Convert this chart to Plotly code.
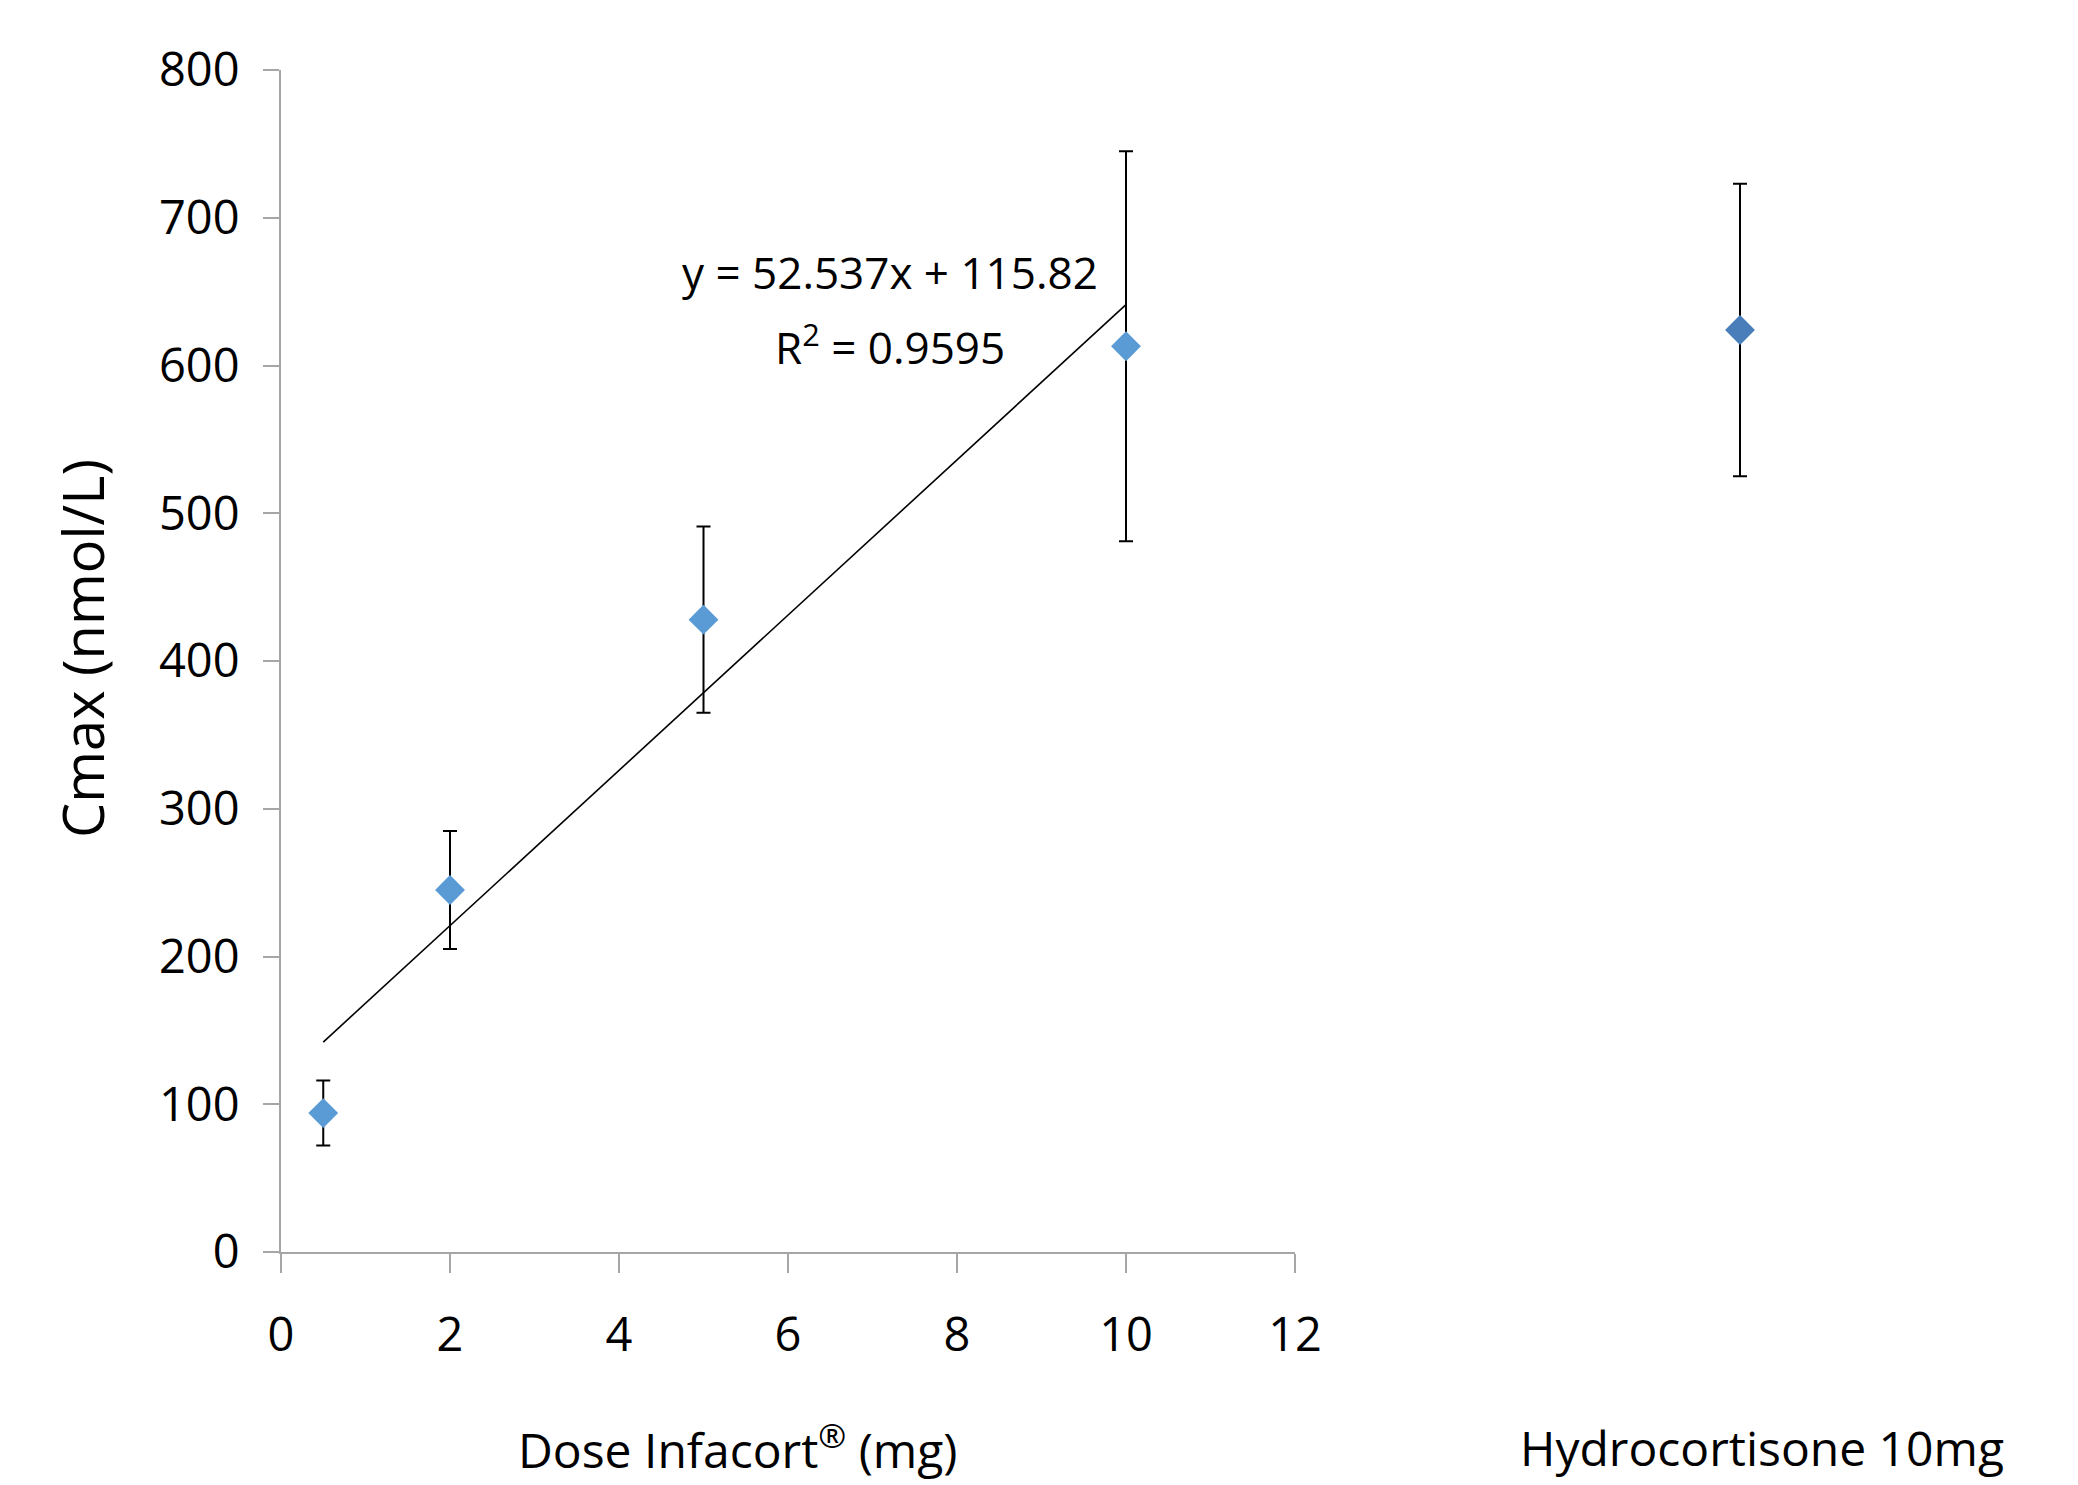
import plotly.graph_objects as go
import numpy as np

# ---- data ----
dose_mg = [0.5, 2, 5, 10]
cmax_infacort = [94, 245, 428, 613]
err_infacort = [22, 40, 63, 132]

hc_label = ["Hydrocortisone 10mg"]
cmax_hc = [624]
err_hc = [99]

fit_slope = 52.537
fit_intercept = 115.82
fit_r2 = 0.9595

y_ticks = [0, 100, 200, 300, 400, 500, 600, 700, 800]
x_ticks = [0, 2, 4, 6, 8, 10, 12]

# ---- figure ----
FONT = "Open Sans, sans-serif"
W, H = 2078, 1485
OFF = 8  # page body margin
L, T = 281 - OFF, 70 - OFF
B = H - (1252 - OFF)
R = W - (1900 - OFF)
pw = W - L - R
ph = H - T - B


def px(x):
    return (x - OFF - L) / pw


def py(y):
    return (H - B - (y - OFF)) / ph


fig = go.Figure()

fig.add_trace(go.Scatter(
    x=dose_mg, y=cmax_infacort, mode="markers",
    marker=dict(symbol="diamond", size=23, color="#5b9bd5"),
    error_y=dict(type="data", array=err_infacort, color="black", thickness=2, width=7),
    showlegend=False, xaxis="x", yaxis="y"))

fx = np.array([min(dose_mg), max(dose_mg)])
fig.add_trace(go.Scatter(
    x=fx, y=fit_slope * fx + fit_intercept, mode="lines",
    line=dict(color="black", width=1.6), showlegend=False, xaxis="x", yaxis="y"))

fig.add_trace(go.Scatter(
    x=hc_label, y=cmax_hc, mode="markers",
    marker=dict(symbol="diamond", size=23, color="#4a7ebb"),
    error_y=dict(type="data", array=err_hc, color="black", thickness=2, width=7),
    showlegend=False, xaxis="x2", yaxis="y"))

fig.update_layout(
    width=W, height=H,
    margin=dict(l=L, r=R, t=T, b=B, autoexpand=False),
    plot_bgcolor="white", paper_bgcolor="white",
    font=dict(family=FONT, size=47, color="black"),
    xaxis=dict(domain=[0, px(1295)], range=[0, 12], tickvals=x_ticks,
               showgrid=False, zeroline=False, showline=True, linecolor="#a6a6a6", linewidth=2,
               ticks="outside", ticklen=19, tickwidth=2, tickcolor="#a6a6a6",
               ticklabelstandoff=22,
               tickfont=dict(family=FONT, size=47, color="black")),
    xaxis2=dict(domain=[px(1740) - 0.05, px(1740) + 0.05], type="category",
                anchor="y", visible=False),
    yaxis=dict(range=[0, 800], tickvals=y_ticks,
               showgrid=False, zeroline=False, showline=True, linecolor="#a6a6a6", linewidth=2,
               ticks="outside", ticklen=16, tickwidth=2, tickcolor="#a6a6a6",
               ticklabelstandoff=14,
               tickfont=dict(family=FONT, size=47, color="black")),
)


def ann(text, x, y, size, angle=0):
    fig.add_annotation(text=text, textangle=angle, xref="paper", yref="paper",
                       x=px(x), y=py(y), xanchor="center", yanchor="middle",
                       showarrow=False, align="center",
                       font=dict(family=FONT, size=size, color="black"))


ann("Cmax (nmol/L)", 82, 649, 56, angle=-90)
ann("Dose Infacort<sup>®</sup> (mg)", 738, 1447, 48)
ann(hc_label[0], 1762, 1447, 48)
ann(f"y = {fit_slope}x + {fit_intercept}", 890, 272, 44)
ann(f"R<sup>2</sup> = {fit_r2}", 890, 345, 44)

fig.write_html("out.html")
